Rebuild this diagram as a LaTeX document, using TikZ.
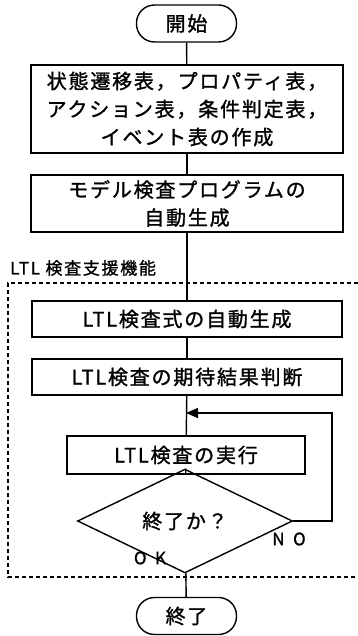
\documentclass[tikz,border=0pt]{standalone}
\usepackage{fontspec}
\setmainfont{Noto Sans CJK JP}[FakeBold=1.2]
\newfontfamily\boxfont{Noto Sans CJK JP}[FakeBold=1.3,LetterSpace=9]
\newfontfamily\lblfont{Noto Sans CJK JP}[FakeBold=1.1,LetterSpace=10]
\usetikzlibrary{shapes.geometric,arrows.meta}
\tikzset{
  base/.style={line width=1.4pt},
  procbox/.style={base, draw, rectangle, align=center, inner sep=0pt, font=\boxfont\fontsize{20}{28}\selectfont},
  term/.style={base, draw, rectangle, rounded corners=18pt, minimum width=100pt, minimum height=37pt, inner sep=0pt, font=\boxfont\fontsize{20}{24}\selectfont},
  decide/.style={base, draw, diamond, minimum width=215pt, minimum height=56pt, inner sep=0pt, font=\boxfont\fontsize{20}{24}\selectfont},
  conn/.style={base},
  grp/.style={line width=1.2pt, dash pattern=on 4pt off 3pt},
  lbl/.style={inner sep=0pt, font=\lblfont\fontsize{17}{19}\selectfont}
}
\begin{document}
\begin{tikzpicture}[x=1pt,y=-1pt]
\useasboundingbox (0,0) rectangle (358,636);
\node[term] (start) at (186.5,23.5) {開始};
\node[procbox, minimum width=312pt, minimum height=88pt] (b1) at (187,109) {状態遷移表，プロパティ表，\\アクション表，条件判定表，\\イベント表の作成};
\node[procbox, minimum width=312pt, minimum height=57pt] (b2) at (187,203.5) {モデル検査プログラムの\\自動生成};
\node[lbl, anchor=west] (glabel) at (10,268) {LTL 検査支援機能};
\draw[grp] (358,283) -- (8,283) -- (8,577) -- (358,577);
\node[procbox, minimum width=310pt, minimum height=36pt] (b3) at (187,319) {LTL検査式の自動生成};
\node[procbox, minimum width=310pt, minimum height=36pt] (b4) at (187,377) {LTL検査の期待結果判断};
\node[procbox, minimum width=238pt, minimum height=38pt] (b5) at (186,455) {LTL検査の実行};
\node[decide] (d) at (185,521) {終了か？};
\node[term] (end) at (186.5,616) {終了};
\node[lbl] (no) at (289,539) {N\enspace O};
\node[lbl] (ok) at (150,558) {O\enspace K};
\coordinate (fb) at (332,413);
\draw[conn] (start) -- (b1);
\draw[conn] (b1) -- (b2);
\draw[conn] (b2) -- (b3);
\draw[conn] (b3) -- (b4);
\draw[conn] (b4) -- (b5);
\draw[conn] (b5) -- (d);
\draw[conn] (d) -- (end);
\draw[conn, -{Triangle[length=12pt,width=10pt]}] (d.east) -- (fb |- d.east) -- (fb) -- (b5.north |- fb);
\end{tikzpicture}
\end{document}
